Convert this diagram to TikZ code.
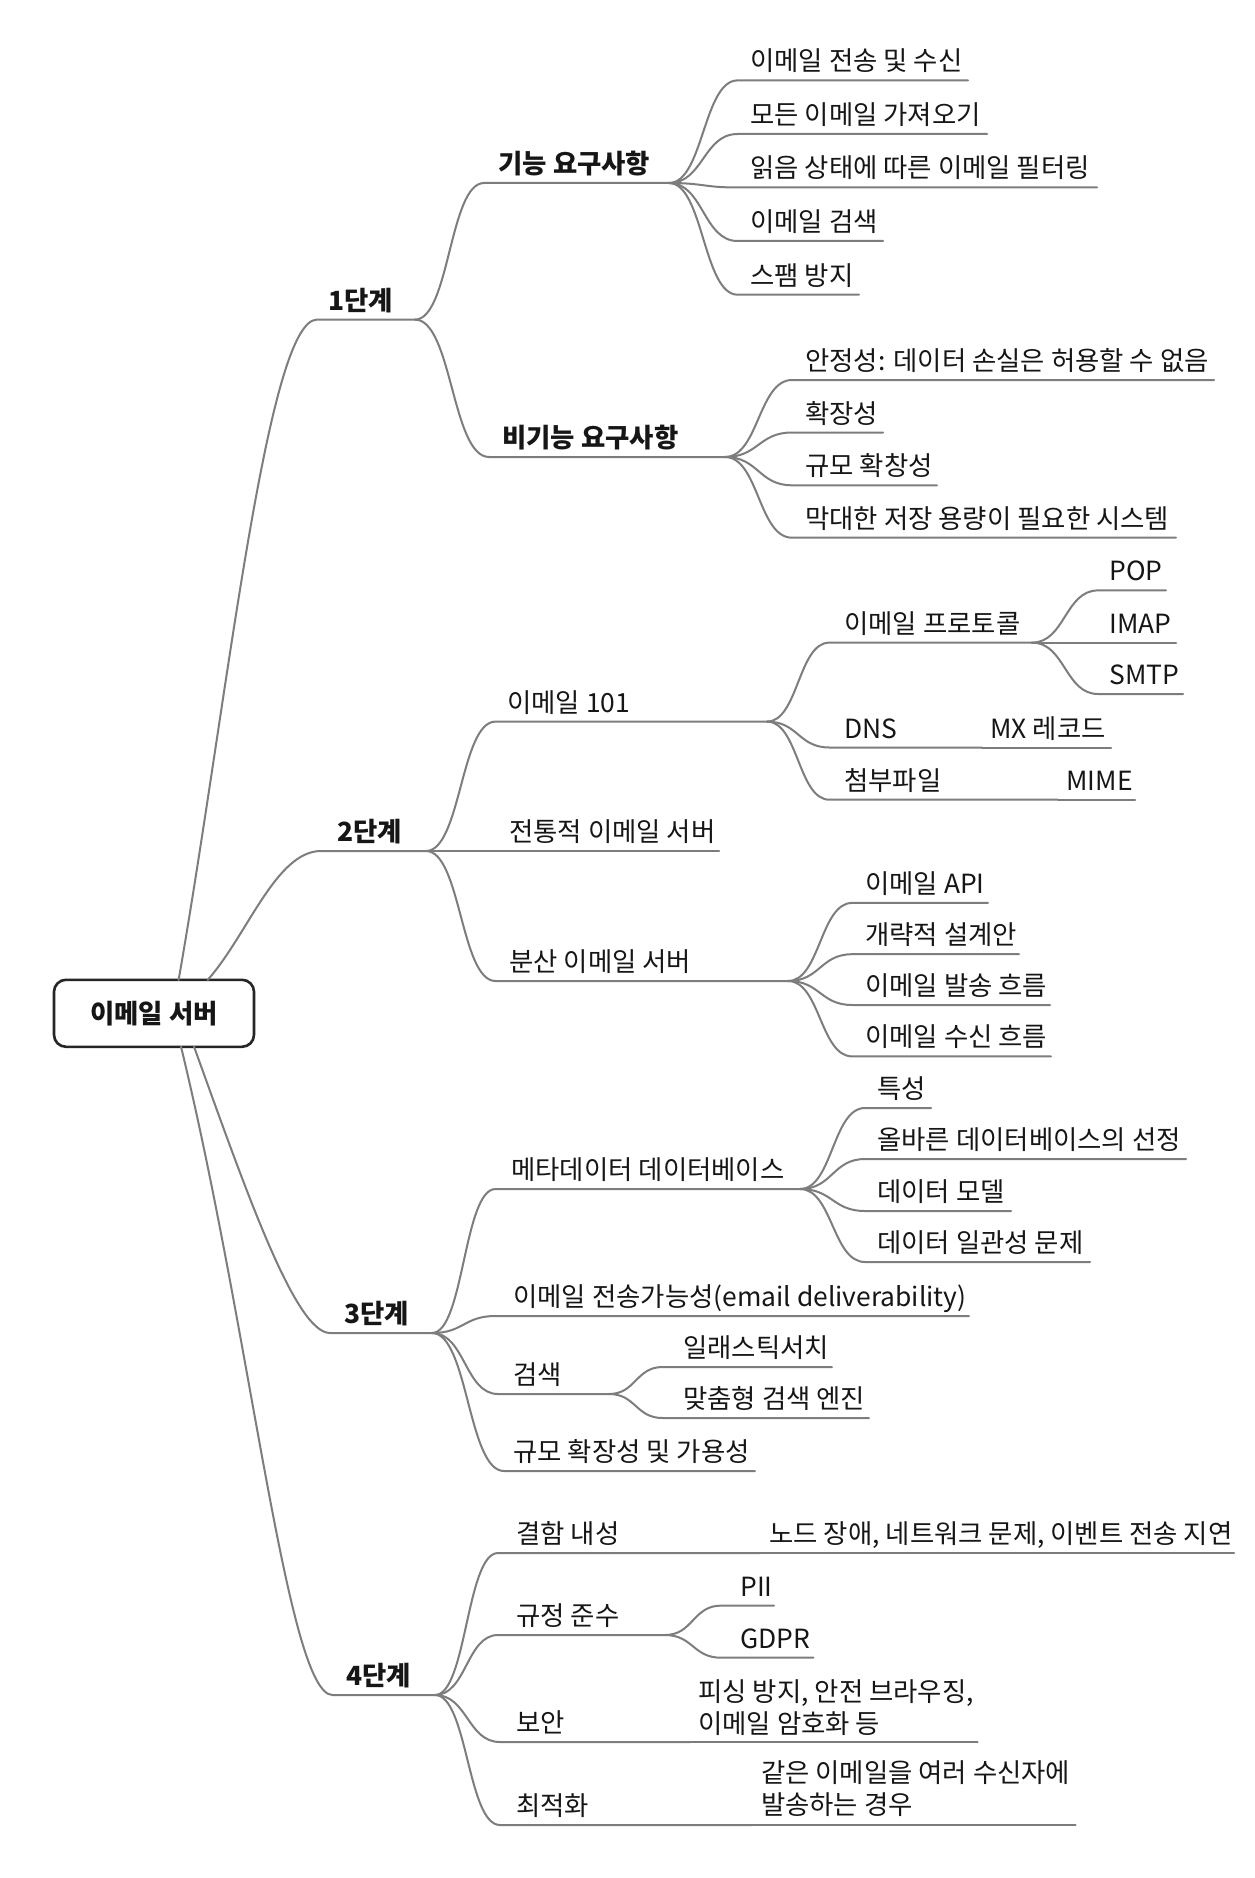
\documentclass[tikz,border=0pt]{standalone}
\usepackage{fontspec}
\setmainfont{Noto Sans CJK KR}
\usetikzlibrary{calc}
\definecolor{linegray}{RGB}{125,125,125}
\definecolor{txtcol}{RGB}{22,22,22}
\newcommand\fs{\fontsize{13.2}{16}\selectfont}
\tikzset{
  conn/.style={draw=linegray, line width=1pt, line cap=round},
  mm/.style={to path={let \p1=(\tikztostart), \p2=(\tikztotarget) in
     .. controls ({(\x1+\x2)/2},\y1) and ({(\x1+\x2)/2},\y2) .. (\tikztotarget)}},
  lbl/.style={inner sep=0pt, anchor=base west, font=\fs, text=txtcol},
  blbl/.style={lbl, font=\fs\bfseries},
  rootbox/.style={draw=black!85, line width=1.3pt, rounded corners=6pt, fill=white,
     minimum width=100pt, minimum height=33.5pt, inner sep=0pt, font=\fs\bfseries, text=txtcol},
}
% #1 style, #2 name, #3 x left, #4 x right, #5 y of underline, #6 x of text, #7 text
\newcommand\mmn[7][lbl]{%
  \coordinate (#2-l) at (#3,#5);
  \coordinate (#2-r) at (#4,#5);
  \node[#1] (#2) at (#6,#5-9.5) {#7};}
\newcommand\cn[2]{\draw[conn] (#1-r) to[mm] (#2-l) -- (#2-r);}
\begin{document}
\begin{tikzpicture}[x=0.5pt, y=-0.5pt]
\useasboundingbox (0,0) rectangle (1254,1878);
\fill[white] (0,0) rectangle (1254,1878);

% stages
\mmn[blbl]{s1}{317}{415}{319.6}{328}{1단계}
\mmn[blbl]{s2}{321}{426}{851}{337}{2단계}
\mmn[blbl]{s3}{330}{432}{1333}{344}{3단계}
\mmn[blbl]{s4}{332.6}{435}{1695}{346}{4단계}

% stage 1
\mmn[blbl]{f1}{484}{669}{183}{498}{기능 요구사항}
\mmn[blbl]{f2}{489}{725}{457}{502}{비기능 요구사항}
\mmn{a1}{737.6}{968}{80.4}{750}{이메일 전송 및 수신}
\mmn{a2}{737.6}{987}{134}{750}{모든 이메일 가져오기}
\mmn{a3}{737.6}{1097}{187.5}{750}{읽음 상태에 따른 이메일 필터링}
\mmn{a4}{737.6}{883}{241}{750}{이메일 검색}
\mmn{a5}{737.6}{859}{294.7}{750}{스팸 방지}
\mmn{b1}{792}{1214}{380}{805}{안정성: 데이터 손실은 허용할 수 없음}
\mmn{b2}{792}{883}{432.5}{805}{확장성}
\mmn{b3}{792}{937}{485.3}{805}{규모 확창성}
\mmn{b4}{792}{1176}{537.7}{805}{막대한 저장 용량이 필요한 시스템}

% stage 2
\mmn{c1}{495.5}{767}{721.6}{507}{이메일 101}
\mmn{c2}{495.5}{719}{851}{509}{전통적 이메일 서버}
\mmn{c3}{495.5}{788}{981}{509}{분산 이메일 서버}
\mmn{d1}{829.4}{1032}{642.6}{844}{이메일 프로토콜}
\mmn{d2}{829.4}{982}{747.5}{844}{DNS}
\mmn{d2a}{982}{1111}{747.5}{990}{MX 레코드}
\mmn{d3}{829.4}{1058}{799.7}{844}{첨부파일}
\mmn{d3a}{1058}{1135}{799.7}{1066}{MIME}
\mmn{e1}{1098}{1166}{590.4}{1109}{POP}
\mmn{e2}{1098}{1176}{642.6}{1109}{IMAP}
\mmn{e3}{1098}{1183}{694}{1109}{SMTP}
\mmn{g1}{852.3}{988}{902.9}{865}{이메일 API}
\mmn{g2}{852.3}{1019}{954.2}{865}{개략적 설계안}
\mmn{g3}{852.3}{1050}{1005}{865}{이메일 발송 흐름}
\mmn{g4}{852.3}{1051}{1056.4}{865}{이메일 수신 흐름}

% stage 3
\mmn{h1}{495.5}{800}{1189}{511}{메타데이터 데이터베이스}
\mmn{h2}{495.5}{969}{1316}{513}{이메일 전송가능성(email deliverability)}
\mmn{h3}{498}{609}{1394}{513}{검색}
\mmn{h4}{504}{755}{1471}{513}{규모 확장성 및 가용성}
\mmn{i1}{865}{931}{1108}{877}{특성}
\mmn{i2}{865}{1186}{1159}{877}{올바른 데이터베이스의 선정}
\mmn{i3}{865}{1011}{1211}{877}{데이터 모델}
\mmn{i4}{865}{1090}{1262}{877}{데이터 일관성 문제}
\mmn{j1}{662.6}{832}{1367}{683}{일래스틱서치}
\mmn{j2}{662.6}{869}{1418}{683}{맞춤형 검색 엔진}

% stage 4
\mmn{k1}{498}{760}{1553}{516}{결함 내성}
\mmn{k1a}{760}{1234}{1553}{769}{노드 장애, 네트워크 문제, 이벤트 전송 지연}
\mmn{k2}{498}{665}{1635}{516}{규정 준수}
\mmn{l1}{721}{774}{1605.6}{740}{PII}
\mmn{l2}{721}{813.5}{1657.7}{740}{GDPR}
\mmn{k3}{500}{690}{1742}{516}{보안}
\coordinate (k3a-l) at (690,1742);
\coordinate (k3a-r) at (977.5,1742);
\node[lbl, align=left, anchor=south west] (k3a) at (698,1736) {피싱 방지, 안전 브라우징,\\이메일 암호화 등};
\mmn{k4}{500}{752}{1825}{516}{최적화}
\coordinate (k4a-l) at (752,1825);
\coordinate (k4a-r) at (1075.5,1825);
\node[lbl, align=left, anchor=south west] (k4a) at (760.6,1817) {같은 이메일을 여러 수신자에\\발송하는 경우};

% root
\node[rootbox] (root) at (154,1013.3) {이메일 서버};
\coordinate (r1) at (178.6,980);
\coordinate (r2) at (207.6,980);
\coordinate (r3) at (194,1046.6);
\coordinate (r4) at (181,1046.6);

% root connectors
\draw[conn] (r1) .. controls +(48.4,-276) and +(-50,0) .. (s1-l) -- (s1-r);
\draw[conn] (r2) .. controls +(40,-45) and +(-45,0) .. (s2-l) -- (s2-r);
\draw[conn] (r3) .. controls +(51,141) and +(-35,0) .. (s3-l) -- (s3-r);
\draw[conn] (r4) .. controls +(70.5,291) and +(-45,0) .. (s4-l) -- (s4-r);

% stage 1 connectors
\cn{s1}{f1}\cn{s1}{f2}
\cn{f1}{a1}\cn{f1}{a2}\cn{f1}{a3}\cn{f1}{a4}\cn{f1}{a5}
\cn{f2}{b1}\cn{f2}{b2}\cn{f2}{b3}\cn{f2}{b4}

% stage 2 connectors
\cn{s2}{c1}\cn{s2}{c2}\cn{s2}{c3}
\cn{c1}{d1}\cn{c1}{d2}\cn{c1}{d3}
\draw[conn] (d2-r) -- (d2a-r);
\draw[conn] (d3-r) -- (d3a-r);
\cn{d1}{e1}\cn{d1}{e2}\cn{d1}{e3}
\cn{c3}{g1}\cn{c3}{g2}\cn{c3}{g3}\cn{c3}{g4}

% stage 3 connectors
\cn{s3}{h1}\cn{s3}{h2}\cn{s3}{h3}\cn{s3}{h4}
\cn{h1}{i1}\cn{h1}{i2}\cn{h1}{i3}\cn{h1}{i4}
\cn{h3}{j1}\cn{h3}{j2}

% stage 4 connectors
\cn{s4}{k1}\cn{s4}{k2}\cn{s4}{k3}\cn{s4}{k4}
\draw[conn] (k1-r) -- (k1a-r);
\cn{k2}{l1}\cn{k2}{l2}
\draw[conn] (k3-r) -- (k3a-r);
\draw[conn] (k4-r) -- (k4a-r);
\end{tikzpicture}
\end{document}
